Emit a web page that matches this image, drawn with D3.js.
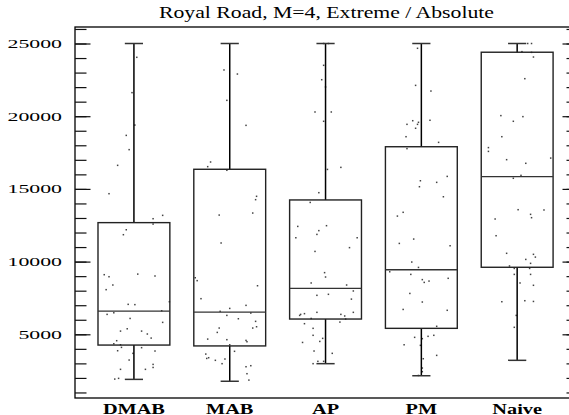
<!DOCTYPE html>
<html>
<head>
<meta charset="utf-8">
<script src="https://cdn.jsdelivr.net/npm/d3@7"></script>
<style>
  body { margin: 0; background: #fff; }
  svg { display: block; }
</style>
</head>
<body>
<div id="chart"></div>
<script>
let w = 569;
let h = 415;

let title = "Royal Road, M=4, Extreme / Absolute";
let categories = ["DMAB", "MAB", "AP", "PM", "Naive"];

// box stats: [whisker low, q1, median, q3, whisker high]
let whiskerLow  = [1900, 1770, 2980, 2150, 3210];
let q1          = [4260, 4200, 6050, 5410, 9610];
let median      = [6600, 6530, 8160, 9440, 15840];
let q3          = [12680, 16350, 14240, 17900, 24400];
let whiskerHigh = [25000, 25000, 25000, 25000, 25000];

let majorTicks = [5000, 10000, 15000, 20000, 25000];
let minorTicks = d3.range(1000, 26001, 1000);

// raw runs: [value, jitter in category units]
let dmabRuns = [
  [24050, 0.03], [21620, -0.02], [19390, 0.01], [18680, -0.08], [17700, -0.05],
  [16620, -0.17], [14670, -0.26], [13180, 0.30], [12950, 0.20], [12580, 0.20],
  [12190, -0.08], [11850, -0.11], [9100, -0.31], [8960, -0.26], [9140, 0.04],
  [9010, 0.22], [8390, -0.22], [8070, -0.29], [7240, 0.37], [7060, -0.06],
  [7040, 0.01], [6620, 0.29], [6480, -0.21], [6370, -0.28], [6090, -0.04],
  [5820, 0.30], [5380, -0.07], [5220, -0.14], [5220, 0.08], [5020, 0.14],
  [4740, 0.18], [4560, -0.18], [4350, -0.21], [4280, -0.14], [4100, -0.13],
  [4080, 0.08], [3870, -0.17], [3850, 0.22], [3690, -0.01], [3230, -0.05],
  [2930, 0.20], [2720, 0.20], [2590, -0.14], [2590, 0.12], [1920, -0.20],
  [1970, -0.16]
];
let mabRuns = [
  [23180, -0.06], [22900, 0.08], [21090, -0.03], [19370, 0.17], [16850, -0.20],
  [16530, -0.23], [16280, -0.03], [14490, 0.28], [14260, 0.27], [13340, 0.24],
  [13200, -0.11], [11280, -0.09], [8890, -0.36], [8690, -0.34], [8340, 0.29],
  [7450, -0.30], [6990, 0.17], [6780, 0.00], [6580, -0.10], [6460, 0.22],
  [6300, -0.03], [6070, 0.09], [5890, 0.27], [5520, 0.28], [5430, 0.24],
  [5430, -0.11], [5130, -0.13], [4670, -0.23], [4630, -0.03], [4580, 0.17],
  [4490, 0.18], [4280, 0.00], [3830, 0.05], [3640, -0.25], [3390, -0.22],
  [3340, -0.24], [3210, -0.15], [3300, -0.05], [2980, -0.08], [2840, 0.22],
  [2770, 0.17], [2290, 0.18], [1850, 0.20]
];
let apRuns = [
  [25000, -0.02], [25000, 0.03], [23500, -0.02], [22510, -0.04], [22010, 0.00],
  [20290, -0.11], [20290, 0.06], [19650, -0.02], [16340, 0.02], [16480, 0.16],
  [14740, -0.07], [14070, -0.16], [12420, -0.29], [12470, 0.01], [12130, -0.07],
  [11870, -0.09], [11640, -0.31], [11640, 0.33], [10960, 0.25], [10700, -0.11],
  [9240, -0.01], [8940, 0.00], [8530, -0.15], [8390, 0.22], [7980, 0.29],
  [7680, -0.09], [7750, 0.03], [7420, 0.27], [6510, -0.09], [6510, 0.29],
  [6420, -0.22], [6370, -0.26], [6300, -0.27], [6370, 0.16], [6260, 0.20],
  [6090, -0.15], [6050, 0.21], [5840, 0.15], [5730, -0.22], [5410, -0.13],
  [4930, -0.13], [4720, -0.03], [4510, -0.06], [4440, -0.24], [3850, -0.12],
  [3690, 0.07], [3140, -0.08], [3140, -0.02], [2980, -0.13]
];
let pmRuns = [
  [24670, -0.04], [22120, -0.06], [21730, 0.10], [19720, 0.09], [19690, -0.09],
  [19580, -0.03], [19440, -0.15], [19440, -0.04], [19170, -0.06], [18590, -0.16],
  [18200, 0.18], [17770, -0.15], [15860, 0.27], [15560, -0.01], [15450, 0.16],
  [15150, -0.02], [14460, 0.23], [13390, -0.19], [13130, -0.25], [11550, -0.08],
  [11250, -0.23], [11090, 0.30], [9970, -0.10], [9600, -0.03], [9300, -0.33],
  [9120, -0.11], [8850, 0.28], [8760, 0.01], [8570, 0.03], [8660, 0.08],
  [7810, -0.12], [7220, 0.01], [6710, -0.19], [6650, 0.27], [5550, 0.16],
  [4790, -0.07], [4700, 0.01], [4860, 0.07], [4930, 0.13], [4280, -0.18],
  [4240, -0.01], [3550, 0.16], [3320, 0.02], [2680, 0.01], [2430, 0.01],
  [2170, -0.03]
];
let naiveRuns = [
  [24440, 0.05], [24390, 0.15], [24070, 0.17], [25000, 0.11], [25000, 0.15],
  [22580, 0.08], [20040, -0.17], [19970, 0.06], [19650, -0.04], [18590, -0.16],
  [17840, -0.30], [17580, -0.30], [17120, 0.35], [17010, -0.11], [16760, 0.09],
  [15930, 0.04], [15730, -0.04], [13570, 0.01], [13550, 0.28], [13250, 0.14],
  [13020, 0.15], [12930, -0.23], [11780, -0.22], [10570, -0.11], [10500, 0.17],
  [10310, 0.19], [10150, 0.09], [9880, 0.14], [9700, -0.08], [9530, -0.03],
  [9530, 0.13], [9120, -0.03], [9120, 0.14], [8530, 0.03], [8370, 0.17],
  [7240, -0.16], [7310, 0.08], [7260, 0.17], [6300, -0.01], [5480, -0.03]
];
let runs = [dmabRuns, mabRuns, apRuns, pmRuns, naiveRuns];

let plotLeft = 75, plotRight = 578, plotTop = 27, plotBottom = 398;
let boxHalf = 0.375;   // category units
let capHalf = 0.095;
let serif = "'Liberation Serif', 'Times New Roman', 'DejaVu Serif', serif";

let svg = d3.select("#chart")
  .append("svg")
    .attr("width", w)
    .attr("height", h)
    .style("background-color", "#fff");

let xScale = d3.scaleLinear().domain([0.385, 5.635]).range([plotLeft, plotRight]);
let yScale = d3.scaleLinear().domain([619, 26135]).range([plotBottom, plotTop]);

// squeeze/stretch a text to a target width, like the original print
function fitWidth(sel, width) {
  sel.attr("textLength", width).attr("lengthAdjust", "spacingAndGlyphs");
}

// title
svg.append("text")
  .attr("x", (plotLeft + plotRight) / 2)
  .attr("y", 18)
  .attr("text-anchor", "middle")
  .attr("font-family", serif)
  .attr("font-size", 16)
  .text(title)
  .call(fitWidth, 335);

// frame
svg.append("rect")
  .attr("x", plotLeft).attr("y", plotTop)
  .attr("width", plotRight - plotLeft).attr("height", plotBottom - plotTop)
  .attr("fill", "none").attr("stroke", "#000").attr("stroke-width", 1.3);

// y axes: ticks pointing inward on both sides
let yAxisL = d3.axisRight(yScale).tickValues(minorTicks)
  .tickSize(11.5).tickFormat("");
let yAxisL2 = d3.axisRight(yScale).tickValues(majorTicks)
  .tickSize(15.5).tickFormat("");
let yAxisR = d3.axisLeft(yScale).tickValues(minorTicks)
  .tickSize(11.5).tickFormat("");
let yAxisR2 = d3.axisLeft(yScale).tickValues(majorTicks)
  .tickSize(15.5).tickFormat("");

[[yAxisL, plotLeft], [yAxisL2, plotLeft], [yAxisR, plotRight], [yAxisR2, plotRight]].forEach(([ax, x]) => {
  let g = svg.append("g").attr("transform", "translate(" + x + ",0)").call(ax);
  g.select(".domain").remove();
  g.selectAll("line").attr("stroke", "#111").attr("stroke-width", 1.2);
});

// tick labels
svg.append("g").selectAll("text").data(majorTicks).enter()
  .append("text")
    .attr("x", 62)
    .attr("y", d => yScale(d) + 4.5)
    .attr("text-anchor", "end")
    .attr("font-family", serif)
    .attr("font-size", 13.5)
    .text(d => d)
    .each(function(d) { fitWidth(d3.select(this), String(d).length * 10.9); });

// category labels
svg.append("g").selectAll("text").data(categories).enter()
  .append("text")
    .attr("x", (d, i) => xScale(i + 1))
    .attr("y", 413.5)
    .attr("text-anchor", "middle")
    .attr("font-family", serif)
    .attr("font-size", 14.5)
    .attr("font-weight", "bold")
    .text(d => d)
    .each(function() {
      fitWidth(d3.select(this), this.getComputedTextLength() * 1.4);
    });

// points
let pointGroup = svg.append("g").attr("class", "points");
runs.forEach((group, i) => {
  pointGroup.selectAll(".p" + i).data(group).enter()
    .append("rect")
      .attr("class", "p" + i)
      .attr("x", d => xScale(i + 1 + d[1]) - 0.75)
      .attr("y", d => yScale(d[0]) - 0.75)
      .attr("width", 1.5)
      .attr("height", 1.5)
      .attr("fill", "#444");
});

// boxes
let boxes = svg.append("g").attr("class", "boxes")
  .selectAll(".box").data(categories).enter()
  .append("g").attr("class", "box");

boxes.append("line")
  .attr("x1", (d, i) => xScale(i + 1)).attr("x2", (d, i) => xScale(i + 1))
  .attr("y1", (d, i) => yScale(whiskerHigh[i])).attr("y2", (d, i) => yScale(q3[i]))
  .attr("stroke", "#000").attr("stroke-width", 1.5);
boxes.append("line")
  .attr("x1", (d, i) => xScale(i + 1)).attr("x2", (d, i) => xScale(i + 1))
  .attr("y1", (d, i) => yScale(q1[i])).attr("y2", (d, i) => yScale(whiskerLow[i]))
  .attr("stroke", "#000").attr("stroke-width", 1.5);
boxes.append("line")
  .attr("x1", (d, i) => xScale(i + 1 - capHalf)).attr("x2", (d, i) => xScale(i + 1 + capHalf))
  .attr("y1", (d, i) => yScale(whiskerHigh[i])).attr("y2", (d, i) => yScale(whiskerHigh[i]))
  .attr("stroke", "#333").attr("stroke-width", 1.5);
boxes.append("line")
  .attr("x1", (d, i) => xScale(i + 1 - capHalf)).attr("x2", (d, i) => xScale(i + 1 + capHalf))
  .attr("y1", (d, i) => yScale(whiskerLow[i])).attr("y2", (d, i) => yScale(whiskerLow[i]))
  .attr("stroke", "#333").attr("stroke-width", 1.5);
boxes.append("rect")
  .attr("x", (d, i) => xScale(i + 1 - boxHalf))
  .attr("y", (d, i) => yScale(q3[i]))
  .attr("width", (d, i) => xScale(i + 1 + boxHalf) - xScale(i + 1 - boxHalf))
  .attr("height", (d, i) => yScale(q1[i]) - yScale(q3[i]))
  .attr("fill", "none").attr("stroke", "#222").attr("stroke-width", 1.4);
boxes.append("line")
  .attr("x1", (d, i) => xScale(i + 1 - boxHalf)).attr("x2", (d, i) => xScale(i + 1 + boxHalf))
  .attr("y1", (d, i) => yScale(median[i])).attr("y2", (d, i) => yScale(median[i]))
  .attr("stroke", "#333").attr("stroke-width", 1.3);
</script>
</body>
</html>
